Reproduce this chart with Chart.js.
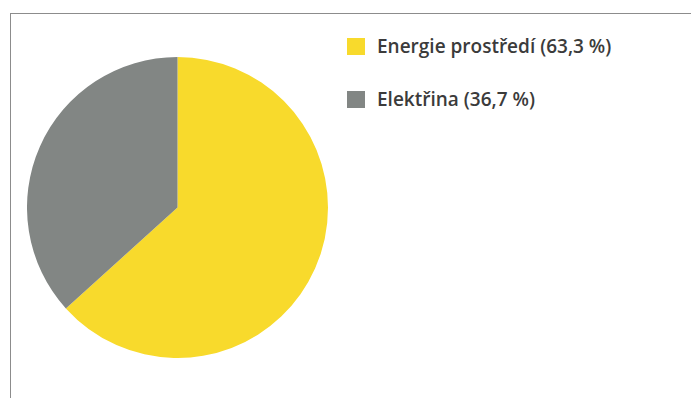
<!DOCTYPE html>
<html>
<head>
<meta charset="utf-8">
<script src="https://cdn.jsdelivr.net/npm/chart.js@4"></script>
<style>
  body { margin: 0; width: 691px; height: 398px; background: #fff; position: relative; overflow: hidden; }
  #frame { position: absolute; left: 10px; top: 13px; right: -2px; bottom: -2px; border-top: 1px solid #8c8c8c; border-left: 1px solid #8c8c8c; }
  #pieBox { position: absolute; left: 27px; top: 57px; width: 301px; height: 301px; }
  #legend { position: absolute; left: 347px; top: 32px; font-family: "Open Sans", sans-serif; font-weight: 600; font-size: 19px; color: #3b3b3b; }
  .item { display: flex; align-items: center; height: 28px; margin-bottom: 25px; white-space: nowrap; }
  .box { width: 18px; height: 17px; margin-right: 12px; }
</style>
</head>
<body>
<div id="frame"></div>
<div id="pieBox"><canvas id="pieChart"></canvas></div>
<div id="legend"></div>
<script>
// data
const labels = ["Energie prostředí", "Elektřina"];
const values = [63.3, 36.7];
const colors = ["#f8da2c", "#828684"];

// legend
const legend = document.getElementById("legend");
for (let i = 0; i < labels.length; i++) {
  let item = document.createElement("div"); item.className = "item";
  let box = document.createElement("div"); box.className = "box"; box.style.background = colors[i];
  let txt = document.createElement("span"); txt.textContent = labels[i] + " (" + values[i].toFixed(1).replace(".", ",") + " %)";
  item.appendChild(box);
  item.appendChild(txt);
  legend.appendChild(item);
}

// chart
new Chart(document.getElementById("pieChart"), {
  type: 'pie',
  data: { labels: labels, datasets: [{ data: values, backgroundColor: colors, borderWidth: 0 }] },
  options: {
    responsive: true,
    maintainAspectRatio: false,
    animation: false,
    layout: { padding: 0 },
    plugins: { legend: { display: false }, tooltip: { enabled: false } }
  }
});
</script>
</body>
</html>
